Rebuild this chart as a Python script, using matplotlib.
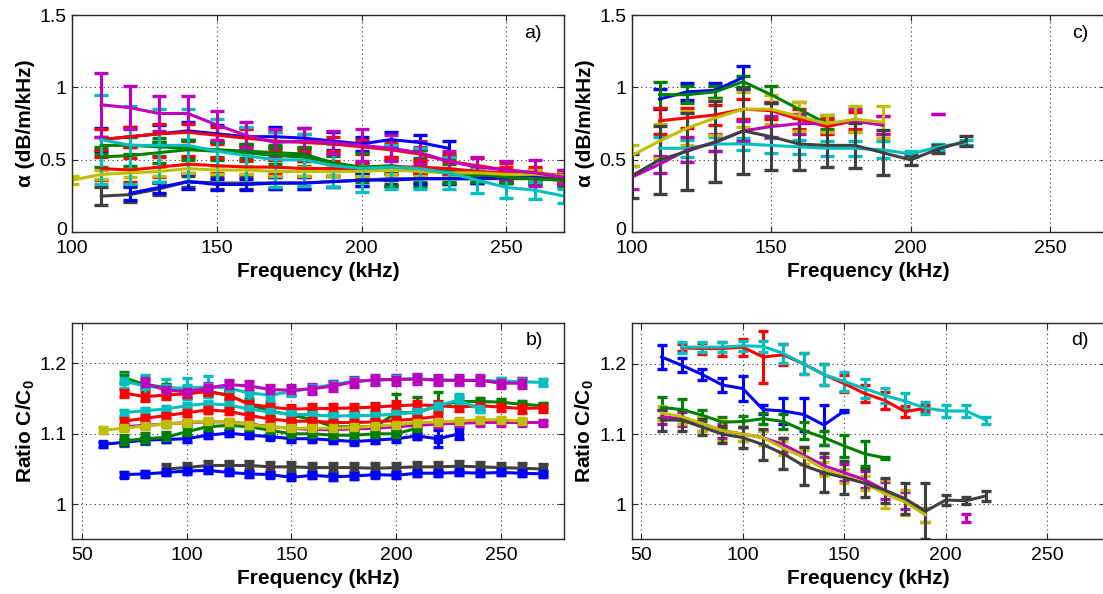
import numpy as np
import matplotlib
matplotlib.use("Agg")
import matplotlib.pyplot as plt
import matplotlib.transforms as mtransforms

plt.rcParams['font.family'] = ['Liberation Sans', 'DejaVu Sans']
plt.rcParams['mathtext.fontset'] = 'custom'
plt.rcParams['mathtext.rm'] = 'Liberation Sans'
plt.rcParams['mathtext.bf'] = 'Liberation Sans:bold'

# ---------------- data ----------------
# Panel a: attenuation, frequency grid 100..270 kHz
freq_a = [100, 110, 120, 130, 140, 150, 160, 170, 180, 190, 200, 210, 220, 230, 240, 250, 260, 270]
a_blue1 = [None, 0.64, 0.66, 0.68, 0.70, 0.68, 0.66, 0.66, 0.65, 0.63, 0.61, 0.64, 0.62, 0.58, None, None, None, None]
a_blue1_err = [None, 0.08, 0.07, 0.06, 0.06, 0.06, 0.06, 0.07, 0.07, 0.06, 0.05, 0.05, 0.05, 0.05, None, None, None, None]
a_green1 = [None, 0.60, 0.60, 0.59, 0.58, 0.57, 0.56, 0.55, 0.54, 0.48, 0.42, 0.44, 0.43, 0.41, 0.39, 0.38, 0.37, 0.36]
a_green1_err = [None, 0.06, 0.06, 0.06, 0.06, 0.05, 0.05, 0.05, 0.05, 0.05, 0.06, 0.08, 0.08, 0.06, 0.05, 0.04, 0.04, 0.04]
a_red1 = [None, 0.64, 0.66, 0.68, 0.69, 0.67, 0.65, 0.63, 0.62, 0.61, 0.59, 0.57, 0.54, 0.49, 0.46, 0.43, 0.41, 0.39]
a_red1_err = [None, 0.07, 0.07, 0.07, 0.06, 0.06, 0.06, 0.06, 0.06, 0.05, 0.05, 0.05, 0.05, 0.05, 0.05, 0.05, 0.04, 0.04]
a_gray1 = [None, 0.25, 0.26, 0.30, 0.35, 0.34, 0.34, 0.34, 0.34, 0.35, 0.36, 0.37, 0.37, 0.37, 0.37, 0.37, 0.37, 0.36]
a_gray1_err = [None, 0.06, 0.05, 0.04, 0.04, 0.04, 0.04, 0.04, 0.04, 0.04, 0.04, 0.04, 0.04, 0.04, 0.03, 0.03, 0.03, 0.03]
a_blue2 = [None, None, 0.27, 0.31, 0.35, 0.33, 0.33, 0.34, 0.34, 0.35, 0.36, 0.36, 0.37, 0.37, 0.37, 0.38, 0.38, 0.37]
a_blue2_err = [None, None, 0.05, 0.04, 0.05, 0.04, 0.04, 0.04, 0.04, 0.04, 0.04, 0.04, 0.04, 0.04, 0.03, 0.03, 0.03, 0.03]
a_green2 = [None, 0.52, 0.53, 0.55, 0.57, 0.56, 0.55, 0.53, 0.52, 0.48, 0.45, 0.46, 0.44, 0.42, 0.40, 0.38, 0.37, 0.36]
a_green2_err = [None, 0.07, 0.07, 0.07, 0.07, 0.06, 0.06, 0.06, 0.06, 0.06, 0.10, 0.14, 0.13, 0.08, 0.05, 0.04, 0.04, 0.04]
a_red2 = [None, 0.44, 0.43, 0.45, 0.47, 0.46, 0.45, 0.45, 0.44, 0.44, 0.43, 0.45, 0.45, 0.44, 0.42, 0.41, 0.40, 0.38]
a_red2_err = [None, 0.08, 0.08, 0.07, 0.06, 0.05, 0.05, 0.05, 0.05, 0.05, 0.05, 0.05, 0.05, 0.05, 0.04, 0.04, 0.04, 0.04]
a_yellow1 = [0.36, 0.40, 0.41, 0.42, 0.44, 0.43, 0.43, 0.42, 0.42, 0.42, 0.42, 0.43, 0.42, 0.41, 0.41, 0.40, 0.40, 0.39]
a_yellow1_err = [0.03, 0.03, 0.03, 0.03, 0.03, 0.03, 0.03, 0.03, 0.03, 0.03, 0.03, 0.03, 0.03, 0.03, 0.03, 0.03, 0.03, 0.03]
a_cyan1 = [None, 0.64, 0.60, 0.60, 0.60, 0.56, 0.53, 0.50, 0.50, 0.46, 0.44, 0.45, 0.44, 0.41, 0.36, 0.31, 0.29, 0.25]
a_cyan1_err = [None, 0.31, 0.27, 0.25, 0.25, 0.22, 0.20, 0.19, 0.18, 0.15, 0.16, 0.15, 0.14, 0.11, 0.09, 0.07, 0.06, 0.05]
a_magenta1 = [None, 0.88, 0.86, 0.82, 0.82, 0.74, 0.67, 0.62, 0.63, 0.62, 0.60, 0.58, 0.55, 0.49, 0.45, 0.43, 0.41, 0.38]
a_magenta1_err = [None, 0.22, 0.15, 0.12, 0.12, 0.10, 0.09, 0.09, 0.09, 0.08, 0.11, 0.09, 0.08, 0.07, 0.07, 0.06, 0.09, 0.05]

# Panel b: sound speed ratio, grid 60..270 kHz
freq_b = [60, 70, 80, 90, 100, 110, 120, 130, 140, 150, 160, 170, 180, 190, 200, 210, 220, 230, 240, 250, 260, 270]
b_blue1 = [1.085, 1.088, 1.091, 1.092, 1.093, 1.098, 1.101, 1.098, 1.096, 1.093, 1.093, 1.091, 1.089, 1.091, 1.093, 1.097, 1.093, 1.100, None, None, None, None]
b_blue1_err = [0.004, 0.004, 0.004, 0.004, 0.004, 0.004, 0.004, 0.004, 0.004, 0.004, 0.004, 0.004, 0.004, 0.004, 0.004, 0.004, 0.012, 0.008, None, None, None, None]
b_green1 = [None, 1.180, 1.170, 1.166, 1.163, 1.160, 1.155, 1.142, 1.132, 1.127, 1.120, 1.110, 1.110, 1.110, 1.130, 1.130, 1.140, 1.146, 1.146, 1.145, 1.142, 1.140]
b_green1_err = [None, 0.008, 0.006, 0.005, 0.005, 0.005, 0.006, 0.007, 0.008, 0.010, 0.012, 0.019, 0.019, 0.019, 0.027, 0.022, 0.019, 0.007, 0.005, 0.005, 0.004, 0.004]
b_red1 = [None, 1.158, 1.153, 1.155, 1.157, 1.160, 1.155, 1.142, 1.138, 1.135, 1.136, 1.136, 1.137, 1.138, 1.140, 1.141, 1.140, 1.138, 1.140, 1.138, 1.136, 1.137]
b_red1_err = [None, 0.006, 0.006, 0.006, 0.006, 0.006, 0.006, 0.006, 0.006, 0.006, 0.006, 0.006, 0.006, 0.006, 0.006, 0.006, 0.006, 0.006, 0.006, 0.006, 0.006, 0.006]
b_cyan1 = [None, 1.175, 1.168, 1.165, 1.165, 1.167, 1.165, 1.158, 1.155, 1.160, 1.165, 1.170, 1.175, 1.176, 1.178, 1.178, 1.177, 1.176, 1.176, 1.175, 1.174, 1.173]
b_cyan1_err = [None, 0.010, 0.016, 0.013, 0.015, 0.015, 0.010, 0.010, 0.008, 0.006, 0.005, 0.005, 0.005, 0.005, 0.005, 0.005, 0.005, 0.005, 0.005, 0.005, 0.005, 0.005]
b_magenta1 = [None, None, 1.172, 1.162, 1.160, 1.165, 1.170, 1.168, 1.163, 1.162, 1.164, 1.168, 1.174, 1.177, 1.177, 1.178, 1.176, 1.176, 1.176, 1.172, 1.172, None]
b_magenta1_err = [None, None, 0.007, 0.007, 0.007, 0.007, 0.007, 0.007, 0.007, 0.007, 0.007, 0.007, 0.007, 0.007, 0.007, 0.007, 0.007, 0.007, 0.007, 0.007, 0.007, None]
b_magenta2 = [None, 1.110, 1.112, 1.114, 1.116, 1.117, 1.117, 1.114, 1.110, 1.108, 1.106, 1.106, 1.107, 1.108, 1.110, 1.112, 1.114, 1.115, 1.116, 1.116, 1.116, 1.116]
b_magenta2_err = [None, 0.003, 0.003, 0.003, 0.003, 0.003, 0.003, 0.003, 0.003, 0.003, 0.003, 0.003, 0.003, 0.003, 0.003, 0.003, 0.003, 0.003, 0.003, 0.003, 0.003, 0.003]
b_cyan2 = [None, 1.130, 1.133, 1.135, 1.140, 1.143, 1.141, 1.135, 1.131, 1.128, 1.127, 1.125, 1.126, 1.126, 1.128, 1.131, 1.140, 1.148, 1.135, None, None, None]
b_cyan2_err = [None, 0.004, 0.004, 0.004, 0.004, 0.004, 0.004, 0.004, 0.004, 0.004, 0.004, 0.004, 0.004, 0.004, 0.004, 0.004, 0.004, 0.008, 0.004, None, None, None]
b_red2 = [None, 1.118, 1.122, 1.126, 1.130, 1.134, 1.132, 1.126, 1.121, 1.118, 1.118, 1.116, 1.116, 1.117, 1.119, 1.121, 1.125, None, None, None, None, None]
b_red2_err = [None, 0.004, 0.004, 0.004, 0.004, 0.004, 0.004, 0.004, 0.004, 0.004, 0.004, 0.004, 0.004, 0.004, 0.004, 0.004, 0.004, None, None, None, None, None]
b_green2 = [None, 1.090, 1.093, 1.095, 1.103, 1.110, 1.112, 1.110, 1.105, 1.100, 1.100, 1.098, 1.098, 1.100, 1.100, 1.108, None, None, None, None, None, None]
b_green2_err = [None, 0.008, 0.008, 0.007, 0.006, 0.006, 0.006, 0.006, 0.006, 0.008, 0.008, 0.008, 0.008, 0.008, 0.006, 0.006, None, None, None, None, None, None]
b_yellow1 = [1.105, 1.108, 1.111, 1.114, 1.116, 1.118, 1.117, 1.113, 1.110, 1.108, 1.108, 1.108, 1.109, 1.111, 1.113, 1.116, 1.117, 1.118, 1.120, 1.120, 1.118, None]
b_yellow1_err = [0.004, 0.004, 0.004, 0.004, 0.004, 0.004, 0.004, 0.004, 0.004, 0.004, 0.004, 0.004, 0.004, 0.004, 0.004, 0.004, 0.004, 0.004, 0.004, 0.004, 0.004, None]
b_gray1 = [None, None, None, 1.050, 1.052, 1.055, 1.055, 1.055, 1.053, 1.053, 1.052, 1.052, 1.052, 1.051, 1.052, 1.053, 1.053, 1.054, 1.053, 1.052, 1.051, 1.050]
b_gray1_err = [None, None, None, 0.007, 0.007, 0.007, 0.007, 0.007, 0.007, 0.007, 0.007, 0.007, 0.007, 0.007, 0.007, 0.007, 0.007, 0.007, 0.007, 0.007, 0.007, 0.007]
b_blue2 = [None, 1.042, 1.043, 1.045, 1.047, 1.048, 1.045, 1.043, 1.042, 1.038, 1.041, 1.039, 1.040, 1.042, 1.041, 1.044, 1.044, 1.045, 1.044, 1.045, 1.044, 1.043]
b_blue2_err = [None, 0.004, 0.004, 0.004, 0.004, 0.004, 0.004, 0.004, 0.004, 0.004, 0.004, 0.004, 0.004, 0.004, 0.004, 0.004, 0.004, 0.004, 0.004, 0.004, 0.004, 0.004]

# Panel c: attenuation, grid 100..220 kHz
freq_c = [100, 110, 120, 130, 140, 150, 160, 170, 180, 190, 200, 210, 220]
c_blue = [None, 0.92, 0.97, 0.98, 1.07, None, None, None, None, None, None, None, None]
c_blue_err = [None, 0.07, 0.06, 0.05, 0.08, None, None, None, None, None, None, None, None]
c_green = [None, 0.95, 0.95, 0.97, 1.04, 0.95, 0.85, 0.75, None, None, None, None, None]
c_green_err = [None, 0.09, 0.06, 0.04, 0.04, 0.06, 0.05, 0.04, None, None, None, None, None]
c_red = [None, 0.77, 0.79, 0.81, 0.85, 0.84, 0.78, 0.73, 0.77, 0.74, None, None, None]
c_red_err = [None, 0.09, 0.07, 0.07, 0.07, 0.06, 0.07, 0.05, 0.06, 0.06, None, None, None]
c_cyan = [None, 0.58, 0.58, 0.61, 0.61, 0.60, 0.59, 0.58, 0.58, 0.57, 0.54, 0.59, 0.62]
c_cyan_err = [None, 0.08, 0.06, 0.05, 0.04, 0.05, 0.05, 0.05, 0.05, 0.06, 0.02, 0.02, 0.015]
c_magenta = [0.38, 0.47, 0.57, 0.62, 0.70, 0.73, 0.75, 0.75, 0.77, 0.74, None, 0.82, None]
c_magenta_err = [0.08, 0.06, 0.085, 0.06, 0.07, 0.07, 0.07, 0.06, 0.08, 0.06, None, 0.0, None]
c_yellow = [0.53, 0.63, 0.72, 0.79, 0.85, 0.85, 0.80, 0.75, 0.78, 0.76, None, None, None]
c_yellow_err = [0.07, 0.12, 0.12, 0.12, 0.12, 0.10, 0.10, 0.06, 0.09, 0.11, None, None, None]
c_gray = [0.39, 0.50, 0.56, 0.625, 0.70, 0.66, 0.61, 0.60, 0.60, 0.55, 0.50, 0.575, 0.63]
c_gray_err = [0.15, 0.235, 0.265, 0.28, 0.295, 0.23, 0.18, 0.15, 0.155, 0.155, 0.035, 0.03, 0.035]

# Panel d: sound speed ratio, grid 60..220 kHz
freq_d = [60, 70, 80, 90, 100, 110, 120, 130, 140, 150, 160, 170, 180, 190, 200, 210, 220]
d_blue = [1.210, 1.198, 1.185, 1.170, 1.165, 1.135, 1.133, 1.128, 1.113, 1.133, None, None, None, None, None, None, None]
d_blue_err = [0.017, 0.010, 0.008, 0.010, 0.018, 0.006, 0.018, 0.023, 0.028, 0.002, None, None, None, None, None, None, None]
d_green = [1.138, 1.135, 1.127, 1.117, 1.118, 1.122, 1.118, 1.105, 1.095, 1.083, 1.072, 1.066, None, None, None, None, None]
d_green_err = [0.015, 0.015, 0.008, 0.008, 0.008, 0.008, 0.011, 0.012, 0.010, 0.016, 0.018, 0.002, None, None, None, None, None]
d_red = [None, 1.223, 1.222, 1.222, 1.224, 1.210, 1.213, 1.200, 1.185, 1.172, 1.158, 1.148, 1.132, 1.137, None, None, None]
d_red_err = [None, 0.005, 0.008, 0.010, 0.012, 0.037, 0.015, 0.015, 0.015, 0.012, 0.012, 0.012, 0.008, 0.004, None, None, None]
d_cyan = [None, 1.224, 1.224, 1.224, 1.226, 1.225, 1.215, 1.200, 1.185, 1.175, 1.165, 1.155, 1.147, 1.137, 1.133, 1.133, 1.120]
d_cyan_err = [None, 0.008, 0.007, 0.007, 0.007, 0.008, 0.013, 0.015, 0.015, 0.013, 0.013, 0.011, 0.011, 0.009, 0.008, 0.008, 0.005]
d_magenta = [1.125, 1.122, 1.115, 1.105, 1.100, 1.095, 1.085, 1.070, 1.055, 1.045, 1.035, 1.020, 1.005, 0.985, None, 0.980, None]
d_magenta_err = [0.010, 0.010, 0.010, 0.010, 0.010, 0.010, 0.010, 0.012, 0.012, 0.012, 0.012, 0.012, 0.012, 0.010, None, 0.006, None]
d_yellow = [1.130, 1.125, 1.115, 1.105, 1.100, 1.095, 1.080, 1.067, 1.050, 1.040, 1.030, 1.015, 1.003, 0.985, None, None, None]
d_yellow_err = [0.010, 0.010, 0.010, 0.015, 0.010, 0.010, 0.010, 0.010, 0.010, 0.010, 0.010, 0.020, 0.018, 0.010, None, None, None]
d_gray = [1.120, 1.120, 1.110, 1.100, 1.095, 1.085, 1.072, 1.055, 1.045, 1.038, 1.030, 1.020, 1.008, 0.990, 1.006, 1.005, 1.012]
d_gray_err = [0.015, 0.015, 0.011, 0.012, 0.015, 0.022, 0.022, 0.027, 0.028, 0.024, 0.020, 0.018, 0.022, 0.040, 0.007, 0.005, 0.007]

# ---------------- style ----------------
BLUE = (0, 0, 1)
GREEN = (0, 0.5, 0)
RED = (1, 0, 0)
CYAN = (0, 0.75, 0.75)
MAGENTA = (0.75, 0, 0.75)
YELLOW = (0.75, 0.75, 0)
GRAY = (0.25, 0.25, 0.25)

W, H = 1103, 594
fig = plt.figure(figsize=(W / 100, H / 100), dpi=100)


def px_axes(left, top, right, bottom):
    return fig.add_axes([left / W, 1 - bottom / H, (right - left) / W, (bottom - top) / H])


ax_a = px_axes(72.3, 15.0, 564.3, 232.3)
ax_c = px_axes(631.7, 15.0, 1105.7, 232.3)
ax_b = px_axes(72.3, 322.7, 564.3, 539.3)
ax_d = px_axes(631.7, 323.3, 1105.7, 539.3)


def arr(v):
    return np.array([np.nan if x is None else x for x in v], dtype=float)


def draw(ax, f, y, e, color, capsize, marker=None):
    ax.errorbar(f, arr(y), yerr=arr(e), color=color, lw=2.2, elinewidth=2.2,
                capsize=capsize, capthick=2.4, marker=marker, markersize=6,
                markerfacecolor=color, markeredgecolor=color)


# panel a
for y, e, c in [(a_blue1, a_blue1_err, BLUE), (a_green1, a_green1_err, GREEN),
                (a_red1, a_red1_err, RED), (a_gray1, a_gray1_err, GRAY),
                (a_blue2, a_blue2_err, BLUE), (a_green2, a_green2_err, GREEN),
                (a_red2, a_red2_err, RED), (a_yellow1, a_yellow1_err, YELLOW),
                (a_cyan1, a_cyan1_err, CYAN), (a_magenta1, a_magenta1_err, MAGENTA)]:
    draw(ax_a, freq_a, y, e, c, 4.8)

# panel b
for y, e, c in [(b_blue1, b_blue1_err, BLUE), (b_green1, b_green1_err, GREEN),
                (b_red1, b_red1_err, RED), (b_cyan1, b_cyan1_err, CYAN),
                (b_magenta1, b_magenta1_err, MAGENTA), (b_magenta2, b_magenta2_err, MAGENTA),
                (b_cyan2, b_cyan2_err, CYAN), (b_red2, b_red2_err, RED),
                (b_green2, b_green2_err, GREEN), (b_yellow1, b_yellow1_err, YELLOW),
                (b_gray1, b_gray1_err, GRAY), (b_blue2, b_blue2_err, BLUE)]:
    draw(ax_b, freq_b, y, e, c, 3.3, marker='s')

# panel c
for y, e, c in [(c_blue, c_blue_err, BLUE), (c_green, c_green_err, GREEN),
                (c_red, c_red_err, RED), (c_cyan, c_cyan_err, CYAN),
                (c_magenta, c_magenta_err, MAGENTA), (c_yellow, c_yellow_err, YELLOW),
                (c_gray, c_gray_err, GRAY)]:
    draw(ax_c, freq_c, y, e, c, 4.8)

# panel d
for y, e, c in [(d_blue, d_blue_err, BLUE), (d_green, d_green_err, GREEN),
                (d_red, d_red_err, RED), (d_cyan, d_cyan_err, CYAN),
                (d_magenta, d_magenta_err, MAGENTA), (d_yellow, d_yellow_err, YELLOW),
                (d_gray, d_gray_err, GRAY)]:
    draw(ax_d, freq_d, y, e, c, 3.6)


def style(ax, xlim, ylim, xticks, yticks, yticklabels, ylabel, tag, tagpos, ylabelpad):
    ax.set_xlim(*xlim)
    ax.set_ylim(*ylim)
    ax.set_xticks(xticks)
    ax.set_xticklabels([str(t) for t in xticks])
    ax.set_yticks(yticks)
    ax.set_yticklabels(yticklabels)
    ax.tick_params(direction='in', length=4, width=0.8, labelsize=14, top=True, right=True,
                   colors='0.15', labelcolor='black')
    ax.tick_params(axis='x', pad=5.5)
    ax.tick_params(axis='y', pad=4)
    ax.grid(True, linestyle=(0, (1, 3)), color='0.2', linewidth=0.8)
    ax.set_axisbelow(True)
    for s in ax.spines.values():
        s.set_color('0.15')
        s.set_linewidth(1.0)
    ax.set_xlabel('Frequency (kHz)', fontsize=15, fontweight='bold', labelpad=3.5)
    ax.set_ylabel(ylabel, fontsize=15, fontweight='bold', labelpad=ylabelpad)
    ax.text(tagpos[0], tagpos[1], tag, fontsize=14, ha='center', va='center')


style(ax_a, (100, 270), (0, 1.5), [100, 150, 200, 250], [0, 0.5, 1, 1.5],
      ['0', '0.5', '1', '1.5'], 'α (dB/m/kHz)', 'a)', (259, 1.375), 3)
style(ax_c, (100, 270), (0, 1.5), [100, 150, 200, 250], [0, 0.5, 1, 1.5],
      ['0', '0.5', '1', '1.5'], 'α (dB/m/kHz)', 'c)', (261, 1.375), 3)
style(ax_b, (45.4, 280.3), (0.95, 1.258), [50, 100, 150, 200, 250], [1, 1.1, 1.2],
      ['1', '1.1', '1.2'], r'Ratio C/C$_\mathbf{0}$', 'b)', (266, 1.233), 2)
style(ax_d, (45.3, 278.8), (0.95, 1.258), [50, 100, 150, 200, 250], [1, 1.1, 1.2],
      ['1', '1.1', '1.2'], r'Ratio C/C$_\mathbf{0}$', 'd)', (266, 1.233), 2)

# lift the "0" tick label slightly so it sits just above the "100" label
for ax in (ax_a, ax_c):
    lab = ax.yaxis.get_major_ticks()[0].label1
    lab.set_transform(lab.get_transform() +
                      mtransforms.ScaledTranslation(0, 2.5 / 72, fig.dpi_scale_trans))

fig.savefig('out.png', dpi=100)
